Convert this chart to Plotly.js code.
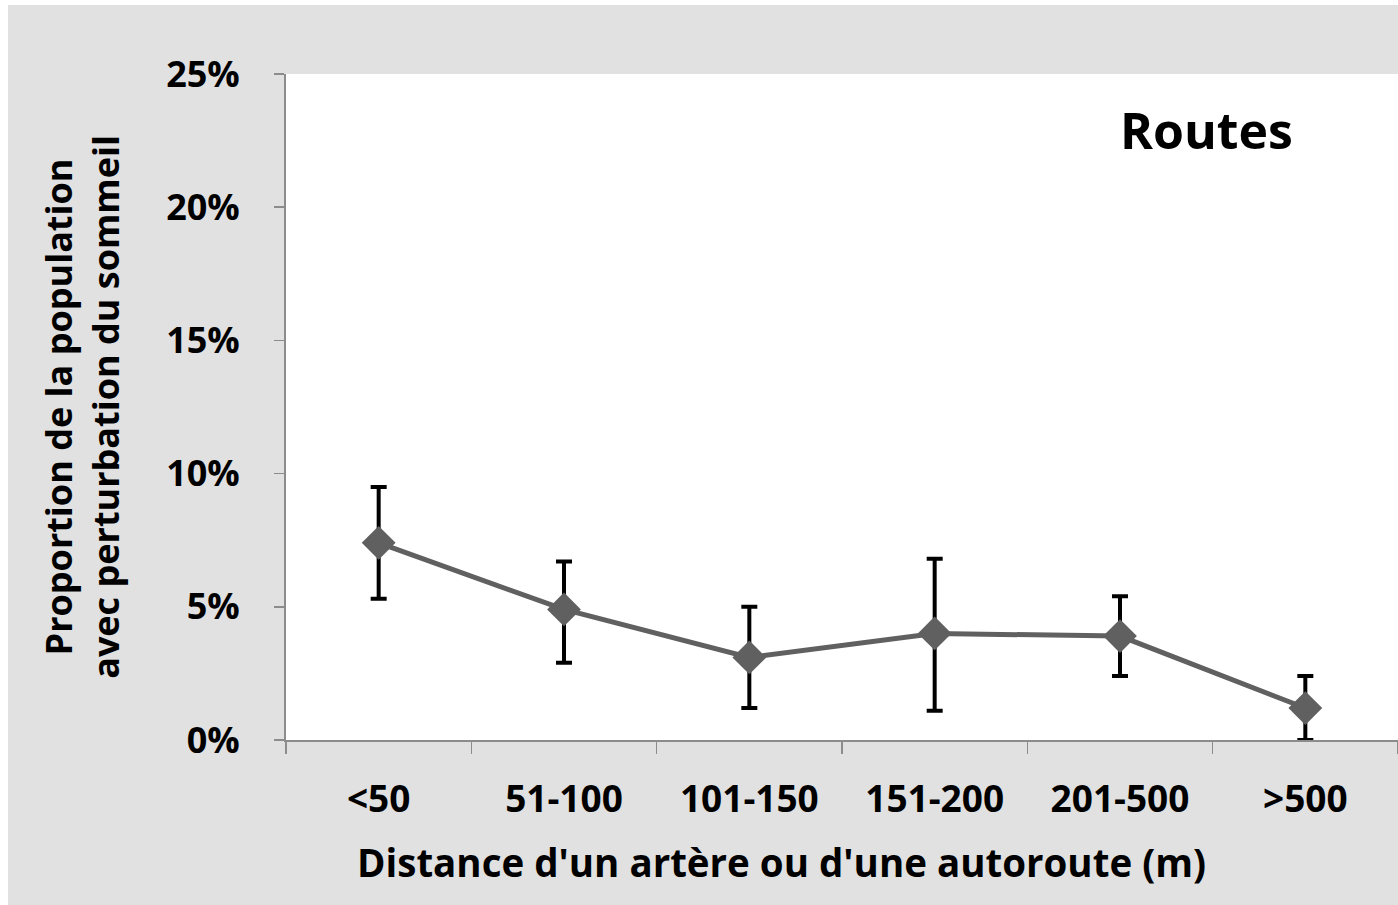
<!DOCTYPE html>
<html>
<head>
<meta charset="utf-8">
<script src="https://cdn.plot.ly/plotly-3.0.1.min.js"></script>
<style>
html,body{margin:0;padding:0;background:#ffffff;}
#chart{position:absolute;left:8px;top:5px;width:1390px;height:900px;}
</style>
</head>
<body>
<div id="chart"></div>
<script>
const categories = ['<50', '51-100', '101-150', '151-200', '201-500', '>500'];
const proportion = [0.074, 0.049, 0.031, 0.040, 0.039, 0.012];
const upperCI = [0.095, 0.067, 0.050, 0.068, 0.054, 0.024];
const lowerCI = [0.053, 0.029, 0.012, 0.011, 0.024, 0.000];
const yTickVals = [0, 0.05, 0.10, 0.15, 0.20, 0.25];
const xTitle = "Distance d'un artère ou d'une autoroute (m)";
const yTitle = 'Proportion de la population<br>avec perturbation du sommeil';
const panelLabel = 'Routes';

const errPlus = upperCI.map((u, i) => u - proportion[i]);
const errMinus = lowerCI.map((l, i) => proportion[i] - l);

const FONT = '"Open Sans", Lato, sans-serif';

const trace = {
  type: 'scatter',
  mode: 'lines+markers',
  x: categories,
  y: proportion,
  line: {color: '#606060', width: 5},
  marker: {symbol: 'diamond', size: 26, color: '#606060'},
  error_y: {
    type: 'data',
    symmetric: false,
    array: errPlus,
    arrayminus: errMinus,
    color: '#000000',
    thickness: 4,
    width: 8
  },
  hoverinfo: 'skip'
};

const layout = {
  width: 1390,
  height: 900,
  paper_bgcolor: '#e1e1e1',
  plot_bgcolor: '#ffffff',
  margin: {l: 278, r: 0, t: 69, b: 165},
  showlegend: false,
  font: {family: FONT, color: '#000000'},
  xaxis: {
    type: 'category',
    range: [-0.5, 5.5],
    tickson: 'boundaries',
    ticks: 'outside',
    ticklen: 12,
    tickwidth: 1.5,
    tickcolor: '#8c8c8c',
    showline: true,
    linecolor: '#8c8c8c',
    linewidth: 2,
    showgrid: false,
    zeroline: false,
    ticklabelstandoff: 26,
    tickfont: {family: FONT, size: 37, color: '#000000', weight: 'bold'},
    automargin: false,
    fixedrange: true
  },
  yaxis: {
    range: [0, 0.25],
    tickvals: yTickVals,
    tickformat: '.0%',
    ticks: 'outside',
    ticklen: 10,
    tickwidth: 1.5,
    tickcolor: '#8c8c8c',
    showline: true,
    linecolor: '#8c8c8c',
    linewidth: 2,
    showgrid: false,
    zeroline: false,
    ticklabelstandoff: 27,
    tickfont: {family: FONT, size: 36, color: '#000000', weight: 'bold'},
    title: {
      text: yTitle,
      font: {family: FONT, size: 36, color: '#000000', weight: 'bold'},
      standoff: 36
    },
    automargin: false,
    fixedrange: true
  },
  annotations: [{
    xref: 'paper', yref: 'paper',
    x: 0.907, y: 0.916,
    xanchor: 'right', yanchor: 'middle',
    text: panelLabel,
    showarrow: false,
    font: {family: FONT, size: 50, color: '#000000', weight: 'bold'}
  }, {
    xref: 'paper', yref: 'paper',
    x: 0.446, y: -0.183,
    xanchor: 'center', yanchor: 'middle',
    text: xTitle,
    showarrow: false,
    font: {family: FONT, size: 38.5, color: '#000000', weight: 'bold'}
  }]
};

Plotly.newPlot('chart', [trace], layout, {displayModeBar: false, staticPlot: true});
</script>
</body>
</html>
